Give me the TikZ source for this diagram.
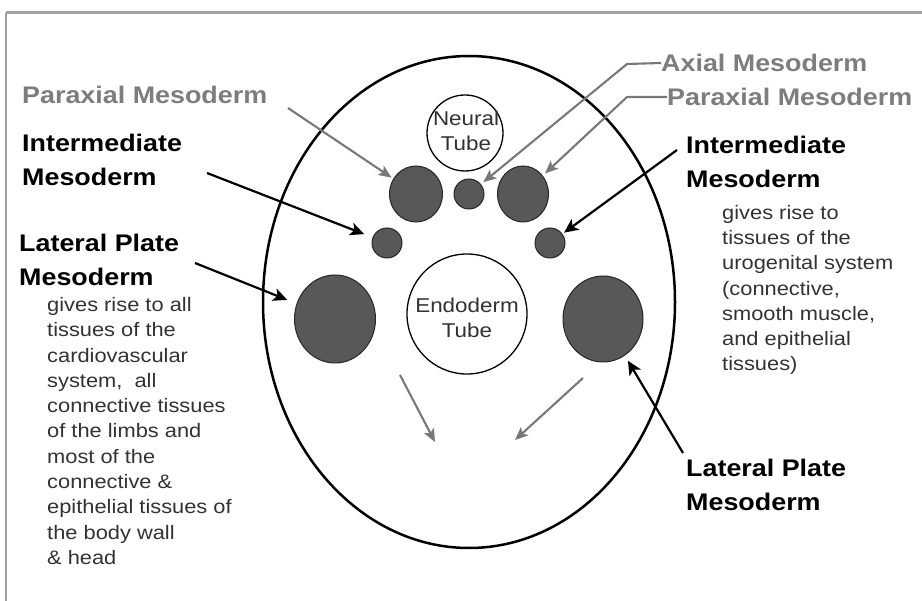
\documentclass[tikz,border=0pt]{standalone}
\usepackage{fontspec}
\setmainfont{Liberation Sans}[FakeStretch=1.12]
\usetikzlibrary{shapes.geometric,arrows.meta}
\definecolor{labgray}{RGB}{125,125,125}
\definecolor{arrgray}{RGB}{120,120,120}
\definecolor{darkfill}{RGB}{88,88,88}
\definecolor{bodytext}{RGB}{50,50,50}
\definecolor{framegray}{RGB}{160,160,160}
\tikzset{
  blab/.style={anchor=west, align=left, inner sep=0pt, font=\fontsize{24}{34}\selectfont\bfseries},
  glab/.style={blab, text=labgray},
  body/.style={anchor=west, align=left, inner sep=0pt, text=bodytext, font=\fontsize{19.5}{25.3}\selectfont},
  somite/.style={circle, draw=black!85, line width=1pt, fill=darkfill, inner sep=0pt},
  tube/.style={circle, draw=black, line width=1.3pt, fill=white, inner sep=0pt},
  tubetext/.style={align=center, inner sep=0pt, font=\fontsize{20}{25}\selectfont, text=bodytext},
  barrow/.style={draw=black, line width=2.2pt, -{Stealth[length=14pt,width=13pt,inset=3.5pt]}},
  garrow/.style={draw=arrgray, line width=2.1pt, -{Stealth[length=13pt,width=11pt,inset=3pt]}},
}
\begin{document}
\begin{tikzpicture}[x=1pt,y=-1pt]
\useasboundingbox (0,0) rectangle (922,601);
% frame
\draw[framegray, line width=3pt] (6,13) -- (922,13);
\draw[framegray, line width=2pt] (6,13) -- (6,601);
% body outline
\node[ellipse, draw=black, line width=2.5pt, minimum width=412pt, minimum height=492pt, inner sep=0pt] (body) at (469,302) {};
% structures
\node[tube, minimum size=76pt] (neural) at (465,133) {};
\node[tubetext] (neuraltxt) at (466,131) {Neural\\Tube};
\node[tube, minimum size=120pt] (endo) at (467,314) {};
\node[tubetext] (endotxt) at (467,318) {Endoderm\\Tube};
\node[somite, minimum width=53pt, minimum height=56pt, ellipse] (parL) at (416,194) {};
\node[somite, minimum size=30pt] (axial) at (469,194) {};
\node[somite, minimum width=51pt, minimum height=56pt, ellipse] (parR) at (523,194) {};
\node[somite, minimum size=30pt] (intL) at (387,243) {};
\node[somite, minimum size=30pt] (intR) at (550,243) {};
\node[somite, ellipse, minimum width=81pt, minimum height=88pt] (latL) at (335,319) {};
\node[somite, ellipse, minimum width=80pt, minimum height=86pt] (latR) at (603,319) {};
% labels
\node[glab] (parLlab) at (22,95) {Paraxial Mesoderm};
\node[blab] (intLlab) at (22,160) {Intermediate\\Mesoderm};
\node[blab] (latLlab) at (19,260) {Lateral Plate\\Mesoderm};
\node[body] (latLtxt) at (47,431) {gives rise to all\\tissues of the\\cardiovascular\\system,\ \ all\\connective tissues\\of the limbs and\\most of the\\connective \&\\epithelial tissues of\\the body wall\\\& head};
\node[glab] (axlab) at (661,63) {Axial Mesoderm};
\node[glab] (parRlab) at (667,97) {Paraxial Mesoderm};
\node[blab] (intRlab) at (686,162) {Intermediate\\Mesoderm};
\node[body] (intRtxt) at (722,290) {gives rise to\\tissues of the\\urogenital system\\(connective,\\smooth muscle,\\and epithelial\\tissues)};
\node[blab] (latRlab) at (686,485) {Lateral Plate\\Mesoderm};
% connector anchors
\coordinate (parLs) at (288,108);
\coordinate (axs) at (627,64);
\coordinate (parRs) at (627,97);
\coordinate (intLs) at (207,173);
\coordinate (intRs) at (677,150);
\coordinate (latLs) at (195,263);
\coordinate (latRs) at (683,453);
\coordinate (g1s) at (400,375);
\coordinate (g1e) at (435,442);
\coordinate (g2s) at (583,378);
\coordinate (g2e) at (515,440);
% gray arrows
\draw[garrow, shorten >=2pt] (parLs) -- (parL);
\draw[garrow, shorten >=3pt] (axlab.west) -- (axs) -- (axial);
\draw[garrow, shorten >=3pt] (parRlab.west) -- (parRs) -- (parR);
\draw[garrow] (g1s) -- (g1e);
\draw[garrow] (g2s) -- (g2e);
% black arrows
\draw[barrow, shorten >=9pt] (intLs) -- (intL);
\draw[barrow, shorten >=2pt] (intRs) -- (intR);
\draw[barrow, shorten >=10pt] (latLs) -- (latL);
\draw[barrow, shorten >=6pt] (latRs) -- (latR);
\end{tikzpicture}
\end{document}
